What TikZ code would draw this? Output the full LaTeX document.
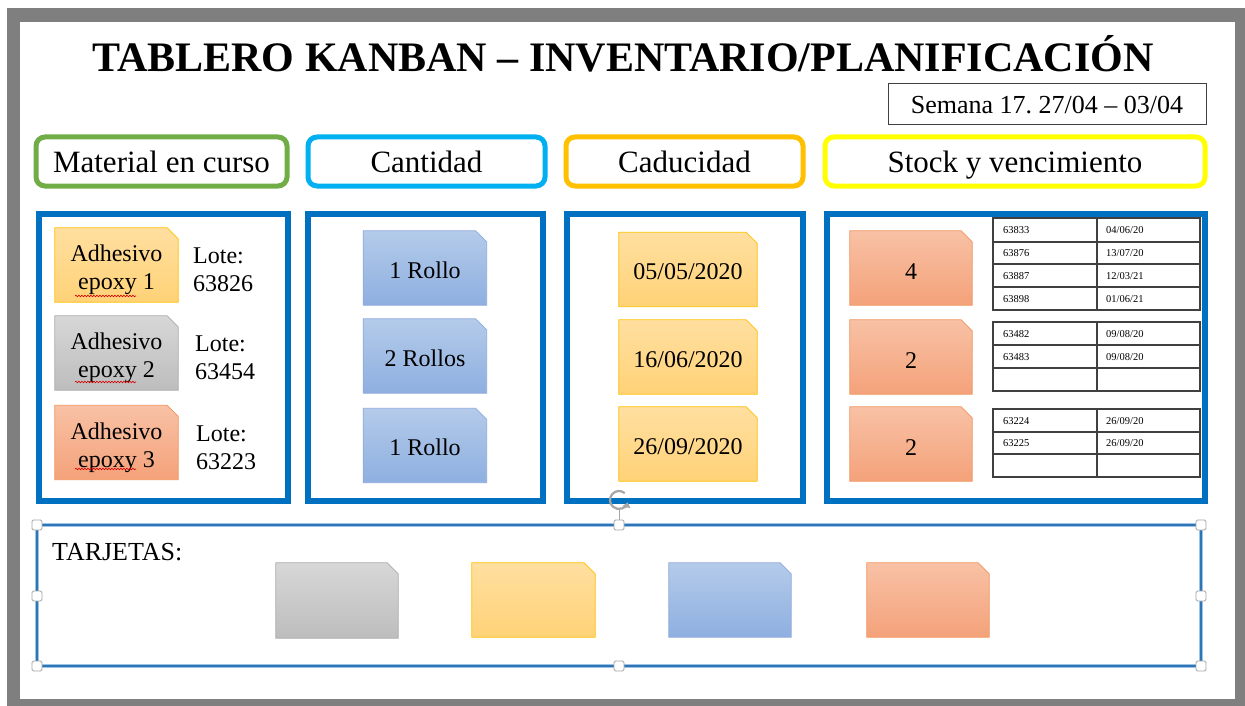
\documentclass[tikz,border=0pt]{standalone}
\usepackage{fontspec}
\setmainfont{Liberation Serif}
\usetikzlibrary{decorations.pathmorphing,arrows.meta,calc}
\frenchspacing

\definecolor{framegray}{HTML}{7F7F7F}
\definecolor{kblue}{HTML}{0070C0}
\definecolor{hgreen}{HTML}{70AD47}
\definecolor{hcyan}{HTML}{00B0F0}
\definecolor{hgold}{HTML}{FFC000}
\definecolor{hyellow}{HTML}{FFFF00}
\definecolor{cYt}{HTML}{FFDFA0}
\definecolor{cYd}{HTML}{FFD277}
\definecolor{cYb}{HTML}{FFC000}
\definecolor{cGt}{HTML}{D7D7D7}
\definecolor{cGd}{HTML}{BDBDBD}
\definecolor{cGb}{HTML}{ABABAB}
\definecolor{cOt}{HTML}{F8C1A5}
\definecolor{cOd}{HTML}{F4A27A}
\definecolor{cOb}{HTML}{F0945C}
\definecolor{cBt}{HTML}{B4CBEA}
\definecolor{cBd}{HTML}{8EAFE0}
\definecolor{cBb}{HTML}{8FAADC}
\definecolor{selblue}{HTML}{2E75B6}
\definecolor{selhalo}{HTML}{9DC3E6}
\definecolor{hgray}{HTML}{A6A6A6}
\definecolor{tblline}{HTML}{404040}

% card outline with the top right corner snipped off
\newcommand\kcard[2]{%
  \path[#2] (#1.north west) -- ($(#1.north east)+(-11,0)$) -- ($(#1.north east)+(0,11)$)
    -- (#1.south east) -- (#1.south west) -- cycle;}

\begin{document}
\begin{tikzpicture}[x=1pt,y=-1pt,
  panel/.style={draw=kblue, line width=5.5pt},
  hdr/.style={rounded corners=9pt, line width=5pt, fill=white, minimum height=49pt,
    text height=21pt, text depth=0pt, inner sep=0pt, font=\fontsize{31}{36}\selectfont},
  card/.style={rectangle, minimum height=74pt, inner sep=0pt},
  cardline/.style={line width=0.8pt},
  ycard/.style={cardline, draw=cYb, top color=cYt, bottom color=cYd},
  gcard/.style={cardline, draw=cGb, top color=cGt, bottom color=cGd},
  ocard/.style={cardline, draw=cOb, top color=cOt, bottom color=cOd},
  bcard/.style={cardline, draw=cBb, top color=cBt, bottom color=cBd},
  ctext/.style={font=\fontsize{24}{28}\selectfont, align=center, inner sep=0pt},
  ltext/.style={font=\fontsize{24}{28}\selectfont, align=left, anchor=west, inner sep=0pt},
  onetext/.style={font=\fontsize{24}{28}\selectfont, anchor=base, inner sep=0pt},
  cell/.style={font=\fontsize{10.5}{12}\selectfont, anchor=base west, inner sep=0pt},
  tbl/.style={draw=tblline, line width=1.3pt},
  spell/.style={draw=red!85!black, line width=0.6pt, decorate,
    decoration={snake, amplitude=0.8pt, segment length=3pt}},
  handle/.style={draw=hgray, fill=white, line width=0.9pt, minimum size=10pt,
    inner sep=0pt, rounded corners=1.5pt}
]
\useasboundingbox (0,0) rectangle (1245,706);
\fill[white] (0,0) rectangle (1245,706);

% outer frame
\fill[framegray] (7,8) rectangle (1245,706);
\fill[white] (20,22) rectangle (1235,699);

% title and week
\node[font=\bfseries\fontsize{42}{48}\selectfont, anchor=base, inner sep=0pt] (title) at (623,72)
  {TABLERO KANBAN – INVENTARIO/PLANIFICACIÓN};
\node[draw=tblline, line width=1pt, minimum width=318pt, minimum height=41pt,
  text height=18pt, text depth=0pt, inner sep=0pt, font=\fontsize{26}{30}\selectfont]
  (semana) at (1047,104.5) {Semana 17. 27/04 – 03/04};

% column headers
\node[hdr, draw=hgreen, minimum width=251pt] (h1) at (161.5,161.5) {Material en curso};
\node[hdr, draw=hcyan, minimum width=237pt] (h2) at (426.5,161.5) {Cantidad};
\node[hdr, draw=hgold, minimum width=237pt] (h3) at (684.5,161.5) {Caducidad};
\node[hdr, draw=hyellow, minimum width=380pt] (h4) at (1015,161.5) {Stock y vencimiento};

% column panels
\draw[panel] (39,214) rectangle (288,501);
\draw[panel] (308,214) rectangle (543,501);
\draw[panel] (567,214) rectangle (803,501);
\draw[panel] (827,214) rectangle (1205,501);

% material column
\node[card, minimum width=123pt] (m1) at (116.5,265) {};
\node[card, minimum width=123pt] (m2) at (116.5,353) {};
\node[card, minimum width=123pt] (m3) at (116.5,442.5) {};
\kcard{m1}{ycard}
\kcard{m2}{gcard}
\kcard{m3}{ocard}
\node[ctext] (m1t) at ($(m1.center)+(0,5)$) {Adhesivo\\epoxy 1};
\node[ctext] (m2t) at ($(m2.center)+(0,5)$) {Adhesivo\\epoxy 2};
\node[ctext] (m3t) at ($(m3.center)+(0,5)$) {Adhesivo\\epoxy 3};
\draw[spell] (75,296) -- (136,296);
\draw[spell] (75,382) -- (136,382);
\draw[spell] (75,469) -- (136,469);
\node[ltext] (l1) at (193,270) {Lote:\\63826};
\node[ltext] (l2) at (195,358) {Lote:\\63454};
\node[ltext] (l3) at (196,447.5) {Lote:\\63223};

% quantity column
\node[card, minimum width=123pt] (q1) at (425,268) {};
\node[card, minimum width=123pt] (q2) at (425,356) {};
\node[card, minimum width=123pt] (q3) at (425,445.5) {};
\kcard{q1}{bcard}
\kcard{q2}{bcard}
\kcard{q3}{bcard}
\node[onetext] (q1t) at ($(q1.center)+(0,10)$) {1 Rollo};
\node[onetext] (q2t) at ($(q2.center)+(0,10)$) {2 Rollos};
\node[onetext] (q3t) at ($(q3.center)+(0,10)$) {1 Rollo};

% expiry column
\node[card, minimum width=138pt] (d1) at (688,269.5) {};
\node[card, minimum width=138pt] (d2) at (688,357) {};
\node[card, minimum width=138pt] (d3) at (688,444) {};
\kcard{d1}{ycard}
\kcard{d2}{ycard}
\kcard{d3}{ycard}
\node[onetext] (d1t) at ($(d1.center)+(0,10)$) {05/05/2020};
\node[onetext] (d2t) at ($(d2.center)+(0,10)$) {16/06/2020};
\node[onetext] (d3t) at ($(d3.center)+(0,10)$) {26/09/2020};

% stock column
\node[card, minimum width=122pt] (s1) at (911,268) {};
\node[card, minimum width=122pt] (s2) at (911,357) {};
\node[card, minimum width=122pt] (s3) at (911,444) {};
\kcard{s1}{ocard}
\kcard{s2}{ocard}
\kcard{s3}{ocard}
\node[onetext] (s1t) at ($(s1.center)+(0,11)$) {4};
\node[onetext] (s2t) at ($(s2.center)+(0,11)$) {2};
\node[onetext] (s3t) at ($(s3.center)+(0,11)$) {2};

% lot / date tables
\draw[tbl] (993,218) rectangle (1200,310);
\draw[tbl] (1097,218) -- (1097,310);
\foreach \yy in {242,264,287} \draw[tbl] (993,\yy) -- (1200,\yy);
\draw[tbl] (993,322) rectangle (1200,391);
\draw[tbl] (1097,322) -- (1097,391);
\foreach \yy in {345,368} \draw[tbl] (993,\yy) -- (1200,\yy);
\draw[tbl] (993,409) rectangle (1200,477);
\draw[tbl] (1097,409) -- (1097,477);
\foreach \yy in {432,454} \draw[tbl] (993,\yy) -- (1200,\yy);

\foreach \lot/\dat/\yy/\nm in {63833/04\slash 06\slash 20/233.5/a, 63876/13\slash 07\slash 20/256.5/b,
    63887/12\slash 03\slash 21/279/c, 63898/01\slash 06\slash 21/302/d,
    63482/09\slash 08\slash 20/337/e, 63483/09\slash 08\slash 20/360/f,
    63224/26\slash 09\slash 20/424/g, 63225/26\slash 09\slash 20/446.5/h} {
  \node[cell] (lot\nm) at (1003,\yy) {\lot};
  \node[cell] (dat\nm) at (1106,\yy) {\dat};
}

% selected card tray
\draw[selhalo, line width=4.5pt] (37,525) rectangle (1201,666);
\draw[selblue, line width=2pt] (37,525) rectangle (1201,666);
\node[anchor=base west, inner sep=0pt, font=\fontsize{26}{30}\selectfont] (tarj) at (52,560) {TARJETAS:};
\node[card, minimum width=122pt, minimum height=75pt] (b1) at (337,600.5) {};
\node[card, minimum width=123pt] (b2) at (533.5,600) {};
\node[card, minimum width=122pt] (b3) at (730,600) {};
\node[card, minimum width=122pt] (b4) at (928,600) {};
\kcard{b1}{gcard}
\kcard{b2}{ycard}
\kcard{b3}{bcard}
\kcard{b4}{ocard}

% selection handles and rotation knob
\coordinate (rot) at (619,500);
\node[handle] (hn) at (619,525) {};
\draw[hgray, line width=0.8pt] (619,510) -- (hn.north);
\draw[hgray, line width=2.2pt, -{Triangle[length=5pt,width=8pt]}]
  ($(rot)+(-50:9)$) arc[start angle=-50, end angle=-345, radius=9];
\node[handle] (hnw) at (37,525) {};
\node[handle] (hne) at (1201,525) {};
\node[handle] (hw) at (37,596) {};
\node[handle] (he) at (1201,596) {};
\node[handle] (hsw) at (37,666) {};
\node[handle] (hs) at (619,666) {};
\node[handle] (hse) at (1201,666) {};
\end{tikzpicture}
\end{document}
